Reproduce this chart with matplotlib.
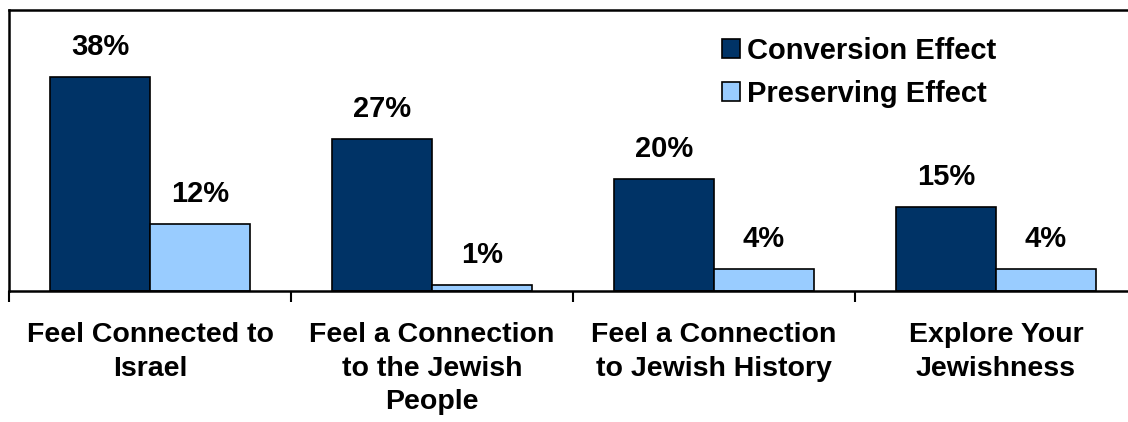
#!/usr/bin/env python3
"""Conversion vs. preserving effect on Jewish connection measures."""

import matplotlib

matplotlib.use("Agg")

import matplotlib.pyplot as plt
import numpy as np

plt.rcParams["font.family"] = ["Liberation Sans", "DejaVu Sans"]
plt.rcParams["font.weight"] = "bold"

categories = [
    "Feel Connected to\nIsrael",
    "Feel a Connection\nto the Jewish\nPeople",
    "Feel a Connection\nto Jewish History",
    "Explore Your\nJewishness",
]
conversion = [38, 27, 20, 15]
preserving = [12, 1, 4, 4]

dark = "#003366"
light = "#99CCFF"

W, H = 1128, 422
fig = plt.figure(figsize=(W / 100, H / 100), dpi=100)
ax = fig.add_axes([9 / W, 131 / H, 1128 / W, 281 / H])

x = np.arange(len(categories)) + 0.5
bw = 0.355
b1 = ax.bar(x - bw / 2, conversion, bw, color=dark, edgecolor="black",
            linewidth=1.2, label="Conversion Effect")
b2 = ax.bar(x + bw / 2, preserving, bw, color=light, edgecolor="black",
            linewidth=1.2, label="Preserving Effect")

for bars, vals in ((b1, conversion), (b2, preserving)):
    for rect, v in zip(bars, vals):
        ax.annotate(f"{v}%", (rect.get_x() + rect.get_width() / 2, v),
                    xytext=(0, 11.5), textcoords="offset points",
                    ha="center", va="bottom", fontsize=21, fontweight="bold")

ax.set_xlim(0, len(categories))
ax.set_ylim(0, 50)

# category boundaries as ticks, names centred between them
ax.set_xticks(np.arange(len(categories) + 1))
ax.set_xticklabels([])
ax.set_xticks(x, minor=True)
ax.set_xticklabels(categories, minor=True, fontsize=20.5, fontweight="bold",
                   linespacing=1.38)
ax.tick_params(axis="x", which="major", direction="out", length=8, width=1.5)
ax.tick_params(axis="x", which="minor", length=0, pad=22.5)
ax.set_yticks([])

for side in ("top", "left", "bottom", "right"):
    ax.spines[side].set_linewidth(1.8)
    ax.spines[side].set_color("black")

ax.legend(loc="upper left", bbox_to_anchor=(707 / W, 1 - 22 / H),
          bbox_transform=fig.transFigure, frameon=False,
          handlelength=0.62, handleheight=0.62, handletextpad=0.25,
          labelspacing=0.52, borderpad=0, prop={"weight": "bold", "size": 21})

fig.savefig("out.png", dpi=100)
plt.close(fig)
